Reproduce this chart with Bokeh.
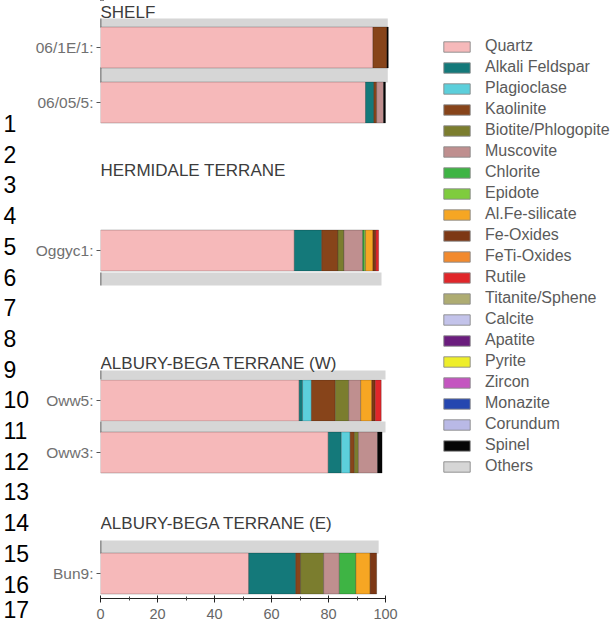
from bokeh.plotting import figure
from bokeh.models import Range1d, FixedTicker, Legend, LegendItem, ColumnDataSource
from bokeh.layouts import row
from bokeh.embed import file_html
from bokeh.resources import INLINE
from bokeh.core.properties import value

# ---------------------------------------------------------------- data
minerals = ["Quartz", "Alkali Feldspar", "Plagioclase", "Kaolinite",
            "Biotite/Phlogopite", "Muscovite", "Chlorite", "Epidote",
            "Al.Fe-silicate", "Fe-Oxides", "FeTi-Oxides", "Rutile",
            "Titanite/Sphene", "Calcite", "Apatite", "Pyrite", "Zircon",
            "Monazite", "Corundum", "Spinel", "Others"]

colors = ["#f6b9ba", "#14797a", "#5ccfdb", "#87441a", "#7b7d2e", "#bf8f8f",
          "#3eb444", "#7fcc3e", "#f6a623", "#7d3815", "#f28a2e", "#e0262a",
          "#aeac72", "#c3c3ea", "#6b1d7e", "#eeee2a", "#c455c0", "#2547b0",
          "#b9b9e6", "#050505", "#d6d6d6"]

samples = ["06/1E/1:", "06/05/5:", "Oggyc1:", "Oww5:", "Oww3:", "Bun9:"]

# modal composition (%), one value per mineral in the order of `minerals`
#                  Qz    AFs  Pl   Kao  Bt   Ms   Chl  Ep   AlFe FeOx FeTi Rt  Ttn Cc  Ap  Py  Zrn Mnz Crn Spl  Oth
comp_06_1e_1 = [95.6, 0.0, 0.0, 4.9, 0.0, 0.0, 0.0, 0.0, 0.0, 0.0, 0, 0.0, 0, 0, 0, 0, 0, 0, 0, 0.5, 0]
comp_06_05_5 = [93.0, 2.9, 0.0, 1.0, 0.0, 2.4, 0.0, 0.0, 0.0, 0.0, 0, 0.0, 0, 0, 0, 0, 0, 0, 0, 0.7, 0]
comp_oggyc1  = [68.0, 9.6, 0.0, 5.7, 2.1, 6.6, 0.5, 0.5, 2.6, 1.0, 0, 1.0, 0, 0, 0, 0, 0, 0, 0, 0.0, 0]
comp_oww5    = [69.7, 1.2, 3.1, 8.4, 4.7, 4.2, 0.0, 0.0, 3.9, 1.2, 0, 2.1, 0, 0, 0, 0, 0, 0, 0, 0.0, 0]
comp_oww3    = [79.9, 4.6, 3.1, 1.5, 1.4, 6.7, 0.0, 0.0, 0.0, 0.0, 0, 0.0, 0, 0, 0, 0, 0, 0, 0, 1.6, 0]
comp_bun9    = [52.0, 16.5, 0.0, 1.7, 8.1, 5.5, 5.8, 0.0, 5.0, 2.3, 0, 0.0, 0, 0, 0, 0, 0, 0, 0, 0.0, 0]
compositions = [comp_06_1e_1, comp_06_05_5, comp_oggyc1, comp_oww5, comp_oww3, comp_bun9]

# grey "Others" strips drawn between / around the sample bars
strip_extent = [100.8, 100.8, 98.6, 100.0, 100.0, 97.6]

groups = ["SHELF", "HERMIDALE TERRANE", "ALBURY-BEGA TERRANE (W)", "ALBURY-BEGA TERRANE (E)"]
x_ticks = [0, 20, 40, 60, 80, 100]
x_minor = [10, 30, 50, 70, 90]
row_numbers = [str(i) for i in range(1, 18)]

# ---------------------------------------------------------------- layout (rows in px from the top)
sample_y = [47, 102, 250, 400, 452, 573]
bar_h = 41
strip_top = [18, 67, 272, 370, 421, 540]
strip_bot = [27, 82, 285, 379, 432, 553]
group_y = [12, 170, 363, 523]
NUM_TOP, NUM_PITCH = 123, 30.7

FONT = "Liberation Sans"
W, H = 616, 627
NUM_W = 31                # column holding the row numbers
FRAME_LEFT = 100          # page x of value 0
PX_PER_UNIT = 2.85
AXIS_Y = 598              # page y of the value axis
MAIN_W = W - NUM_W

# ---------------------------------------------------------------- main chart
p = figure(width=MAIN_W, height=H, output_backend="svg", toolbar_location=None,
           x_range=Range1d(0, (W - FRAME_LEFT) / PX_PER_UNIT),
           y_range=Range1d(AXIS_Y, 0),
           min_border_left=FRAME_LEFT - NUM_W, min_border_right=0,
           min_border_top=0, min_border_bottom=H - AXIS_Y)
p.outline_line_color = None
p.xgrid.visible = False
p.ygrid.visible = False

# grey strips, with a dark left edge
strip_mid = [(a + b) / 2 for a, b in zip(strip_top, strip_bot)]
strip_hgt = [b - a for a, b in zip(strip_top, strip_bot)]
p.hbar(y=strip_mid, height=strip_hgt, left=0, right=strip_extent,
       fill_color=colors[-1], line_color=None)
p.segment(x0=0, x1=0, y0=strip_top, y1=strip_bot, line_color="#333333", line_width=1.5)

# stacked mineral bars
legend_items = []
for j, (name, col) in enumerate(zip(minerals, colors)):
    ys, lefts, rights = [], [], []
    for yy, comp in zip(sample_y, compositions):
        if comp[j] > 0:
            ys.append(yy)
            lefts.append(sum(comp[:j]))
            rights.append(sum(comp[:j + 1]))
    src = ColumnDataSource(dict(y=ys, left=lefts, right=rights))
    p.hbar(y="y", left="left", right="right", height=bar_h, source=src,
           fill_color=col, line_color="#000000", line_alpha=0.22, line_width=1)
    # legend swatch renderer (kept outside the visible y range)
    key = p.hbar(y=[-50], left=[0], right=[1], height=1,
                 fill_color=col, line_color="#8a8a8a", line_alpha=0.9, line_width=1)
    legend_items.append(LegendItem(label=name, renderers=[key]))

# group headings
p.text(x=[0] * len(groups), y=group_y, text=groups,
       text_font=value(FONT), text_font_size="17px", text_color="#3c3c3c",
       text_align="left", text_baseline="middle")

# axes
xa = p.xaxis[0]
xa.ticker = FixedTicker(ticks=x_ticks, minor_ticks=x_minor)
xa.bounds = (0, 100)
xa.axis_line_color = "#222222"
xa.axis_line_width = 1.2
xa.major_tick_line_color = "#222222"
xa.major_tick_in = 3
xa.major_tick_out = 4
xa.minor_tick_line_color = "#444444"
xa.minor_tick_in = 2
xa.minor_tick_out = 2
xa.major_label_text_font = FONT
xa.major_label_text_font_size = "14.5px"
xa.major_label_text_color = "#666666"
xa.major_label_standoff = 6

ya = p.yaxis[0]
ya.ticker = FixedTicker(ticks=sample_y, minor_ticks=[])
ya.major_label_overrides = {yy: s for yy, s in zip(sample_y, samples)}
ya.axis_line_color = None
ya.major_tick_line_color = "#555555"
ya.major_tick_in = 0
ya.major_tick_out = 4
ya.minor_tick_line_color = None
ya.major_label_text_font = FONT
ya.major_label_text_font_size = "15.5px"
ya.major_label_text_color = "#707070"
ya.major_label_standoff = 3

legend = Legend(items=legend_items, location=(340, 123),
                glyph_width=33, glyph_height=13, label_height=13,
                label_standoff=12, spacing=3, padding=0, margin=0,
                border_line_alpha=0, background_fill_alpha=0,
                label_text_font=FONT, label_text_font_size="16px",
                label_text_color="#5a5a5a")
p.add_layout(legend)

# ---------------------------------------------------------------- row-number column
# rows 1-16 are drawn in the frame; the last one sits level with the value-axis labels
n = figure(width=NUM_W, height=H, output_backend="svg", toolbar_location=None,
           y_axis_type=None,
           x_range=Range1d(0, NUM_W), y_range=Range1d(AXIS_Y, 0),
           min_border=0, min_border_bottom=H - AXIS_Y)
n.grid.visible = False
n.outline_line_color = None
body = row_numbers[:-1]
n.text(x=[3] * len(body), y=[NUM_TOP + k * NUM_PITCH for k in range(len(body))], text=body,
       text_font=value(FONT), text_font_size="23px", text_color="#000000",
       text_align="left", text_baseline="middle")
na = n.xaxis[0]
last_x = 3 + 12.8  # centre of the last two-digit label
na.ticker = FixedTicker(ticks=[last_x], minor_ticks=[])
na.major_label_overrides = {last_x: row_numbers[-1]}
na.axis_line_color = None
na.major_tick_line_color = None
na.major_tick_in = 0
na.major_tick_out = 0
na.major_label_standoff = 2
na.major_label_text_font = FONT
na.major_label_text_font_size = "23px"
na.major_label_text_color = "#000000"

layout = row(n, p)
open("out.html", "w").write(file_html(layout, INLINE))
